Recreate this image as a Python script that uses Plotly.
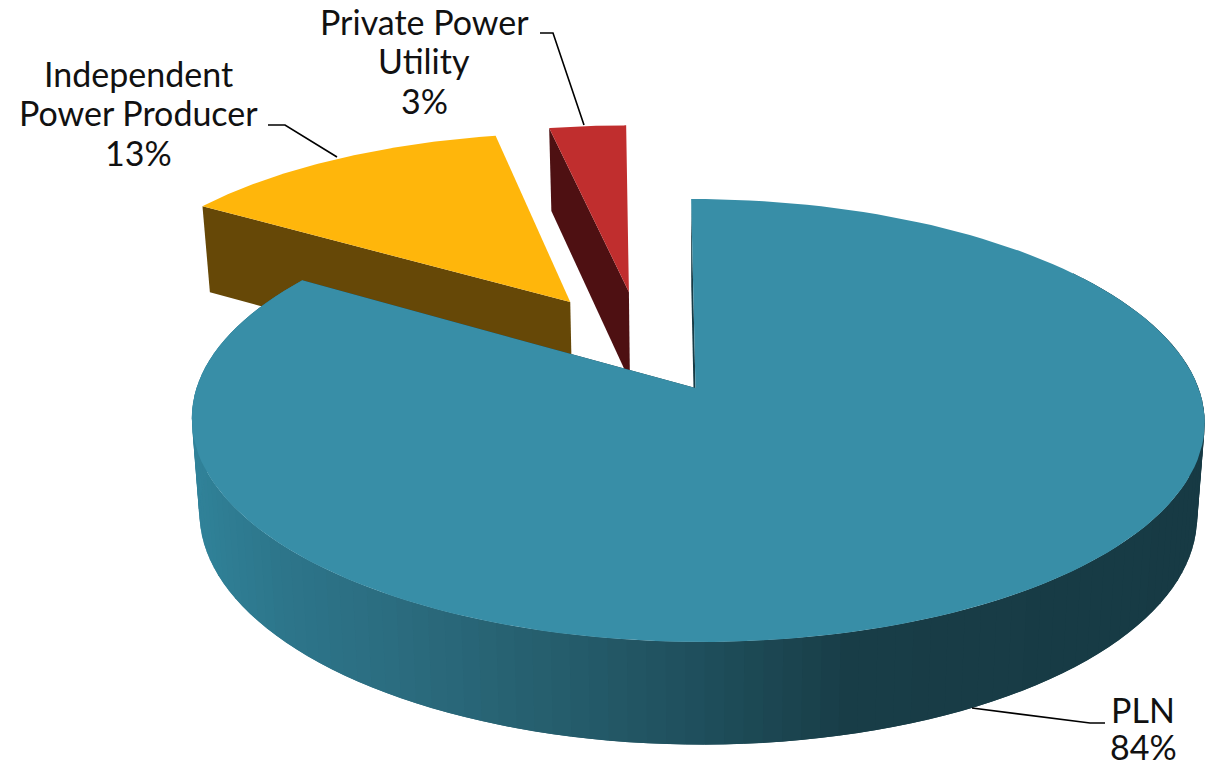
import numpy as np
import plotly.graph_objects as go

# Generation share by operator
categories = ["PLN", "Independent<br>Power Producer", "Private Power<br>Utility"]
shares = [84, 13, 3]

top_colors = ["#388ea7", "#ffb60b", "#c02e2e"]
wall_colors = ["#173b45", "#664807", "#4e1012"]

# Shading of the round rim, from its left end to its right end
rim_stop_x = [195, 280, 400, 560, 700, 850, 1205]
rim_stop_rgb = [
    [48, 130, 153], [45, 118, 139], [43, 108, 127], [37, 93, 108],
    [31, 79, 92], [24, 61, 71], [23, 58, 68],
]

# Perspective of the disc
CX, CY, RY, TILT, SKEW = 695.5, 388.0, 216.7, 0.1467, -5.0
RX_LEFT, RX_RIGHT = 499.0, 503.0
BASE_CY, BASE_RY, VANISH_X, BASE_SCALE = 481.0, 225.0, 697.0, 0.985

# Pulled-out slices: offset on the disc plane and a slight lean in x
offsets = [(0.0, 0.0), (-0.2623, 0.4213), (-0.138, 0.474)]
leans = [0.0, 0.048, 0.04]


def project(u, v, apex_y=CY, lean=0.0):
    """Disc-plane coordinates to screen positions of the top and base faces."""
    u, v = np.asarray(u, float), np.asarray(v, float)
    w = 1 + TILT * v
    x = CX + np.where(u < 0, RX_LEFT, RX_RIGHT) * u / w + SKEW * v / w
    y = CY - RY * v / w
    x = x - lean * (apex_y - y)
    xb = VANISH_X + (x - VANISH_X) * BASE_SCALE
    yb = BASE_CY - BASE_RY * v / w
    return x, y, xb, yb


def polygon(x, y, color, name):
    return go.Scatter(
        x=list(x), y=list(y), mode="lines", fill="toself", fillcolor=color,
        line=dict(color=color, width=0), name=name, hoverinfo="skip", showlegend=False,
    )


# Slice boundaries in radians, clockwise from twelve o'clock
edges = np.radians(np.cumsum([0] + shares) * 3.6)
walls, tops = [], []

for i, name in enumerate(categories):
    t0, t1 = edges[i], edges[i + 1]
    du, dv = offsets[i]
    apex_y = CY - RY * dv / (1 + TILT * dv)
    t = np.linspace(t0, t1, 160)
    ax, ay, axb, ayb = project(du, dv, apex_y, leans[i])
    ox, oy, oxb, oyb = project(np.sin(t) + du, np.cos(t) + dv, apex_y, leans[i])

    # Flat cut face on the side of the slice that turns towards the viewer
    j = -1 if i == 0 else 0
    walls.append(polygon(
        [ax, ox[j], oxb[j], axb, ax], [ay, oy[j], oyb[j], ayb, ay],
        wall_colors[i], name,
    ))
    if i == 0:
        walls.append(polygon(
            [ax, ox[0], oxb[0], axb, ax], [ay, oy[0], oyb[0], ayb, ay],
            wall_colors[i], name,
        ))
    tops.append(polygon(np.r_[ax, ox, ax], np.r_[ay, oy, ay], top_colors[i], name))

fig = go.Figure()

# Slices behind the big one come first so that it overlaps them
fig.add_trace(walls[2])
fig.add_trace(tops[1])
fig.add_trace(walls[3])
fig.add_trace(tops[2])
fig.add_trace(walls[0])
fig.add_trace(walls[1])

# Round rim of the big slice: each shaded strip reaches under the next one,
# so no hairline shows between neighbours
rim = np.radians(np.linspace(55, shares[0] * 3.6, 130))
rx, ry, rxb, ryb = project(np.sin(rim), np.cos(rim))
for a in range(len(rim) - 1):
    b = min(a + 2, len(rim) - 1)
    mid_x = (rx[a] + rx[a + 1] + rxb[a] + rxb[a + 1]) / 4
    rgb = [int(round(np.interp(mid_x, rim_stop_x, [s[c] for s in rim_stop_rgb]))) for c in range(3)]
    color = f"rgb({rgb[0]},{rgb[1]},{rgb[2]})"
    fig.add_trace(polygon(
        np.r_[rx[a:b + 1], rxb[a:b + 1][::-1], rx[a]],
        np.r_[ry[a:b + 1], ryb[a:b + 1][::-1], ry[a]],
        color, categories[0],
    ))

fig.add_trace(tops[0])

# Leader lines
leaders = [
    ([1105, 1090, 972], [723, 723, 708]),
    ([268, 285, 337], [125, 125, 157]),
    ([540, 553, 584], [33, 33, 125]),
]
for lx, ly in leaders:
    fig.add_trace(go.Scatter(
        x=lx, y=ly, mode="lines", line=dict(color="#000000", width=1.6),
        hoverinfo="skip", showlegend=False,
    ))

# Category labels with their percentages, one line at a time
label_blocks = [(1143, 709, 37.0), (138, 73, 39.5), (424, 21, 39.5)]
for name, share, (px, py, step) in zip(categories, shares, label_blocks):
    for n, text in enumerate(name.split("<br>") + [f"{share}%"]):
        fig.add_annotation(
            x=px, y=py + n * step, text=text, showarrow=False,
            xanchor="center", yanchor="middle", align="center",
            font=dict(family="Lato, sans-serif", size=34, color="#111111"),
        )

fig.update_layout(
    width=1205, height=767, margin=dict(l=0, r=0, t=0, b=0),
    paper_bgcolor="white", plot_bgcolor="white", showlegend=False,
    xaxis=dict(range=[0, 1205], visible=False, fixedrange=True),
    yaxis=dict(range=[767, 0], visible=False, fixedrange=True),
)

fig.write_html("out.html", config={"displayModeBar": False})
